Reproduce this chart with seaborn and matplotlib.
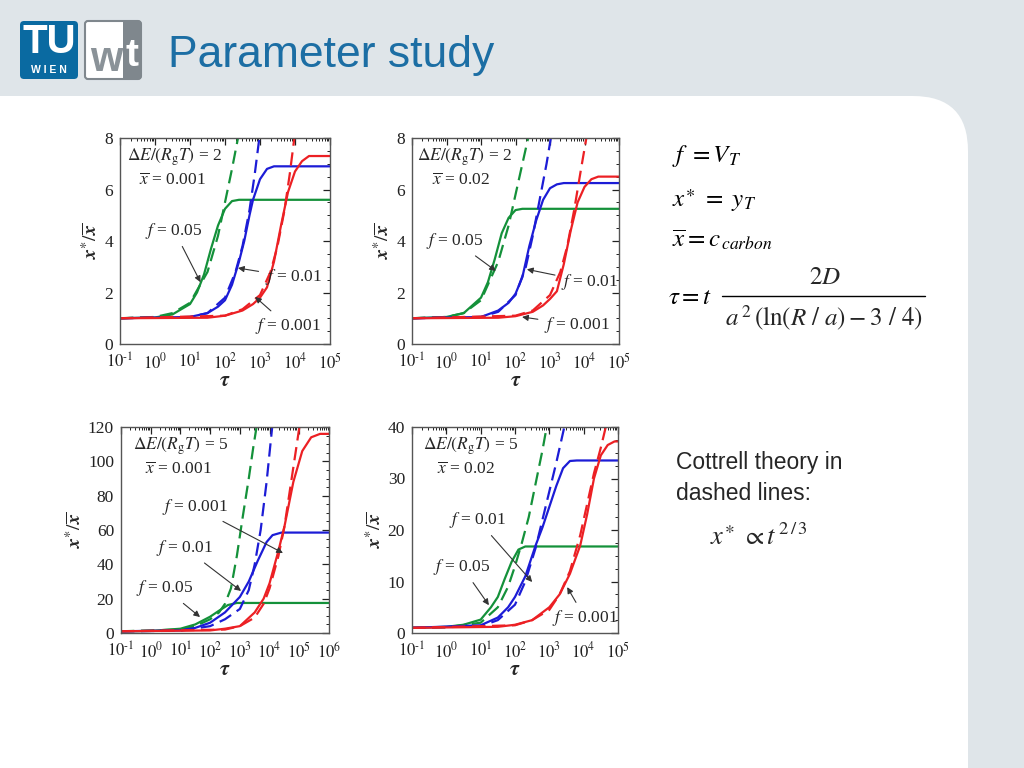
import math
import pandas as pd
import seaborn as sns
import matplotlib.pyplot as plt
import matplotlib.ticker as tkr
from matplotlib.patches import FancyBboxPatch, Rectangle
from matplotlib.lines import Line2D
from matplotlib.transforms import IdentityTransform

# curves: (log10 tau, x*/xbar)
# panel a: dE/(RgT)=2, xbar=0.001
a_green = [(-1, 1.0), (0, 1.03), (0.5, 1.15), (1.0, 1.55), (1.2, 2.0), (1.4, 2.7), (1.6, 3.7),
           (1.8, 4.6), (2.0, 5.25), (2.2, 5.55), (2.4, 5.6), (5, 5.6)]
a_green_c = [(-1, 1.0), (0, 1.05), (0.5, 1.2), (1, 1.6), (1.5, 2.8), (1.8, 4.2), (2.0, 5.5),
             (2.2, 6.8), (2.4, 8.2)]
a_blue = [(-1, 1.0), (1, 1.05), (1.5, 1.2), (1.8, 1.45), (2.0, 1.7), (2.2, 2.3), (2.4, 3.2),
          (2.55, 4.0), (2.7, 5.0), (2.8, 5.6), (3.0, 6.4), (3.2, 6.8), (3.4, 6.9), (5, 6.9)]
a_blue_c = [(-1, 1.0), (1, 1.05), (1.5, 1.2), (2.0, 1.8), (2.3, 2.8), (2.5, 3.8), (2.7, 5.2),
            (2.85, 6.6), (3.0, 8.2)]
a_red = [(-1, 1.0), (1.5, 1.02), (2.0, 1.1), (2.5, 1.3), (2.8, 1.55), (3.0, 1.8), (3.2, 2.2),
         (3.4, 3.2), (3.6, 4.6), (3.8, 5.9), (4.0, 6.7), (4.2, 7.1), (4.4, 7.3), (5, 7.3)]
a_red_c = [(-1, 1.0), (2, 1.1), (2.5, 1.35), (3.0, 1.9), (3.3, 2.8), (3.5, 3.8), (3.7, 5.2),
           (3.85, 6.6), (4.0, 8.2)]

# panel b: dE/(RgT)=2, xbar=0.02
b_green = [(-1, 1.0), (0, 1.05), (0.5, 1.2), (1.0, 1.8), (1.2, 2.4), (1.4, 3.3), (1.6, 4.3),
           (1.8, 4.9), (2.0, 5.2), (2.2, 5.25), (5, 5.25)]
b_green_c = [(-1, 1.0), (0, 1.05), (0.5, 1.2), (1, 1.7), (1.5, 3.2), (1.8, 4.6), (2.0, 5.8),
             (2.2, 7.0), (2.4, 8.2)]
b_blue = [(-1, 1.0), (1.0, 1.05), (1.5, 1.3), (1.8, 1.6), (2.0, 1.95), (2.2, 2.6), (2.4, 3.8),
          (2.6, 4.8), (2.8, 5.6), (3.0, 6.05), (3.2, 6.2), (3.4, 6.25), (5, 6.25)]
b_blue_c = [(-1, 1.0), (1, 1.05), (1.5, 1.25), (2, 1.9), (2.3, 3.0), (2.5, 4.2), (2.7, 5.6),
            (2.9, 7.0), (3.05, 8.2)]
b_red = [(-1, 1.0), (1.5, 1.02), (2.0, 1.08), (2.5, 1.25), (2.8, 1.5), (3.0, 1.75), (3.2, 2.05),
         (3.4, 3.1), (3.6, 4.4), (3.8, 5.5), (4.0, 6.1), (4.2, 6.4), (4.4, 6.5), (5, 6.5)]
b_red_c = [(-1, 1.0), (2, 1.1), (2.5, 1.3), (3, 1.9), (3.3, 2.8), (3.5, 3.8), (3.7, 5.2),
           (3.9, 6.8), (4.08, 8.2)]

# panel c: dE/(RgT)=5, xbar=0.001
c_green = [(-1, 1.0), (0, 1.2), (1, 2.5), (1.5, 5), (2.0, 9.5), (2.3, 13), (2.6, 16.3),
           (2.9, 17.5), (6, 17.5)]
c_green_c = [(-1, 1.0), (1, 2), (1.5, 4), (2.0, 8), (2.3, 12), (2.5, 17), (2.7, 26), (2.9, 45),
             (3.1, 68), (3.3, 90), (3.45, 108), (3.58, 122)]
c_blue = [(-1, 1.0), (1, 1.5), (1.5, 3), (2, 6), (2.5, 12), (3.0, 21), (3.3, 30), (3.6, 42),
          (3.9, 53), (4.1, 57), (4.4, 58.5), (6, 58.5)]
c_blue_c = [(-1, 1.0), (1, 1.3), (2, 4), (2.5, 8), (3.0, 14), (3.3, 25), (3.5, 40), (3.7, 60),
            (3.9, 88), (4.1, 122)]
c_red = [(-1, 1.0), (2, 1.5), (2.5, 2.5), (3.0, 4), (3.5, 12), (3.8, 20), (4.0, 29), (4.3, 48),
         (4.5, 62), (4.8, 88), (5.1, 106), (5.4, 114), (5.7, 116), (6, 116)]
c_red_c = [(-1, 1.0), (2.5, 2), (3, 4), (3.5, 9), (3.8, 17), (4.0, 26), (4.3, 45), (4.5, 62),
           (4.7, 85), (4.9, 108), (5.02, 122)]

# panel d: dE/(RgT)=5, xbar=0.02
d_green = [(-1, 1.0), (0, 1.2), (0.5, 1.6), (1.0, 2.6), (1.3, 5), (1.5, 7), (1.7, 10.5),
           (1.9, 13.8), (2.1, 16.2), (2.3, 16.8), (5, 16.8)]
d_green_c = [(-1, 1.0), (0, 1.1), (1, 2), (1.5, 5), (1.8, 9), (2.0, 13), (2.2, 17.5),
             (2.4, 22.5), (2.6, 29), (2.8, 35.5), (2.95, 41)]
d_blue = [(-1, 1.0), (1, 1.5), (1.5, 3), (1.8, 5), (2.0, 7), (2.3, 11), (2.6, 17), (2.8, 20.5),
          (3.0, 24.5), (3.2, 28.5), (3.4, 32), (3.6, 33.4), (3.8, 33.5), (5, 33.5)]
d_blue_c = [(-1, 1.0), (1, 1.3), (1.5, 2.5), (2, 5.5), (2.3, 10), (2.6, 16.5), (2.8, 22),
            (3.0, 27.5), (3.2, 33), (3.47, 41)]
d_red = [(-1, 1.0), (1.5, 1.2), (2, 1.6), (2.5, 2.5), (3.0, 5), (3.3, 7.5), (3.6, 11.5),
         (3.9, 17), (4.1, 23), (4.3, 30), (4.5, 34.5), (4.7, 36.5), (4.9, 37.2), (5, 37.2)]
d_red_c = [(-1, 1.0), (2, 1.5), (2.5, 2.5), (3, 4.5), (3.3, 7.5), (3.6, 12), (3.9, 19),
           (4.1, 25), (4.3, 31), (4.5, 36), (4.68, 41)]

f_values = ['0.05', '0.01', '0.001']
palette = {'0.05': '#14913a', '0.01': '#1c1cd6', '0.001': '#ec2024'}

panels = [
    dict(curves=[a_green, a_green_c, a_blue, a_blue_c, a_red, a_red_c], pos=[120, 344, 210, 206],
         xmax=5, ymax=8, ystep=2, de='2', xbar='0.001', hdr=[(-0.8, 7.25), (-0.45, 6.35)],
         labels=[('0.05', (0.55, 4.4), (1.3, 2.4)), ('0.01', (3.95, 2.6), (2.37, 2.95)),
                 ('0.001', (3.8, 0.7), (2.86, 1.83))]),
    dict(curves=[b_green, b_green_c, b_blue, b_blue_c, b_red, b_red_c], pos=[412, 344, 207, 206],
         xmax=5, ymax=8, ystep=2, de='2', xbar='0.02', hdr=[(-0.86, 7.25), (-0.42, 6.35)],
         labels=[('0.05', (0.25, 4.0), (1.43, 2.84)), ('0.01', (4.15, 2.4), (2.33, 2.9)),
                 ('0.001', (3.78, 0.74), (2.19, 1.05))]),
    dict(curves=[c_green, c_green_c, c_blue, c_blue_c, c_red, c_red_c], pos=[121, 633, 208, 206],
         xmax=6, ymax=120, ystep=20, de='5', xbar='0.001', hdr=[(-0.6, 109), (-0.2, 95)],
         labels=[('0.001', (1.5, 73.5), (4.45, 46.6)), ('0.01', (1.15, 49.5), (3.04, 24.5)),
                 ('0.05', (0.48, 26), (1.66, 9.3))]),
    dict(curves=[d_green, d_green_c, d_blue, d_blue_c, d_red, d_red_c], pos=[412, 633, 206, 206],
         xmax=5, ymax=40, ystep=10, de='5', xbar='0.02', hdr=[(-0.68, 36.3), (-0.27, 31.7)],
         labels=[('0.01', (0.92, 21.9), (2.5, 9.9)), ('0.05', (0.46, 12.8), (1.24, 5.4)),
                 ('0.001', (4.04, 2.9), (3.52, 8.9))]),
]

W, H = 1024, 768
sns.set_style('white')
plt.rcParams['font.family'] = ['Liberation Serif', 'DejaVu Serif']
plt.rcParams['mathtext.fontset'] = 'stix'

fig = plt.figure(figsize=(W / 100, H / 100), dpi=100, facecolor='#dfe5e9')


def fx(x):
    return x / W


def fy(y):
    return 1 - y / H


# white content area with rounded top-right corner
fig.patches.append(FancyBboxPatch((-200, -200), 968 + 200, H - 96 + 200,
                                  boxstyle='round,pad=0,rounding_size=55', transform=IdentityTransform(),
                                  facecolor='white', edgecolor='none', zorder=-5))

# logos + title
fig.patches.append(FancyBboxPatch((20, H - 79), 58, 58, boxstyle='round,pad=0,rounding_size=4',
                                  transform=IdentityTransform(), facecolor='#0a6aa1', edgecolor='none'))
fig.text(fx(49), fy(42), 'TU', color='white', fontsize=29, fontweight='bold', family='Liberation Sans',
         ha='center', va='center')
fig.text(fx(49), fy(70), 'W I E N', color='white', fontsize=7.5, fontweight='bold', family='Liberation Sans',
         ha='center', va='center')
fig.patches.append(FancyBboxPatch((85, H - 79), 56, 58, boxstyle='round,pad=0,rounding_size=3',
                                  transform=IdentityTransform(), facecolor='white', edgecolor='#7f878d', lw=1.5))
fig.patches.append(Rectangle((123, H - 79), 18, 58, transform=IdentityTransform(),
                             facecolor='#7f878d', edgecolor='none'))
fig.text(fx(106), fy(60), 'w', color='#8a9298', fontsize=30, fontweight='bold', family='Liberation Sans',
         ha='center', va='center')
fig.text(fx(132), fy(56), 't', color='white', fontsize=28, fontweight='bold', family='Liberation Sans',
         ha='center', va='center')
fig.text(fx(168), fy(67), 'Parameter study', color='#1c6ea4', fontsize=32, family='Liberation Sans',
         ha='left', va='baseline')


def make_frame(curves):
    rows = []
    for f, pts in zip(f_values, [curves[0:2], curves[2:4], curves[4:6]]):
        for kind, series in zip(['sim', 'cottrell'], pts):
            for lt, y in series:
                rows.append((f, kind, 10.0 ** lt, y))
    return pd.DataFrame(rows, columns=['f', 'kind', 'tau', 'y'])


def sci(v, pos):
    return r'$10^{\text{%d}}$' % round(math.log10(v))


for p in panels:
    l, b, w, h = p['pos']
    ax = fig.add_axes([fx(l), fy(b), fx(w), h / H])
    ax.patch.set_alpha(0)
    df = make_frame(p['curves'])
    sns.lineplot(data=df, x='tau', y='y', hue='f', style='kind', palette=palette,
                 hue_order=f_values, style_order=['sim', 'cottrell'],
                 dashes={'sim': '', 'cottrell': (6, 3)}, estimator=None, sort=False,
                 legend=False, lw=1.6, ax=ax)
    ax.set_xscale('log')
    ax.set_xlim(0.1, 10 ** p['xmax'])
    ax.set_ylim(0, p['ymax'])
    ax.xaxis.set_major_locator(tkr.LogLocator(base=10, numticks=12))
    ax.xaxis.set_minor_locator(tkr.LogLocator(base=10, subs=range(2, 10), numticks=12))
    ax.xaxis.set_major_formatter(tkr.FuncFormatter(sci))
    ax.xaxis.set_minor_formatter(tkr.NullFormatter())
    ax.yaxis.set_major_locator(tkr.MultipleLocator(p['ystep']))
    ax.yaxis.set_minor_locator(tkr.AutoMinorLocator(4))
    ax.tick_params(which='both', direction='in', top=True, right=True, colors='#222222',
                   labelsize=12.5)
    ax.tick_params(axis='x', pad=6, labelsize=12)
    ax.tick_params(axis='y', pad=5)
    ax.tick_params(which='major', length=5, width=0.9)
    ax.tick_params(which='minor', length=2.5, width=0.7)
    for s in ax.spines.values():
        s.set_color('#555555')
        s.set_linewidth(1.0)
    ax.set_xlabel(r'$\mathbfit{\tau}$', fontsize=15, labelpad=0)
    ax.set_ylabel(r'$\mathbfit{x}^{\ast}/\overline{\mathbfit{x}}$', fontsize=14, labelpad=2)

    (hx1, hy1), (hx2, hy2) = p['hdr']
    ax.text(10 ** hx1, hy1, r'$\Delta E/(R_{\mathrm{g}}T)$ = ' + p['de'], fontsize=12.5, va='center')
    ax.text(10 ** hx2, hy2, r'$\overline{x}$ = ' + p['xbar'], fontsize=12.5, va='center')
    for f, (tx, ty), (ax_, ay) in p['labels']:
        ax.annotate(r'$f$ = ' + f, xy=(10 ** ax_, ay), xytext=(10 ** tx, ty), fontsize=12.5,
                    ha='center', va='center',
                    arrowprops=dict(arrowstyle='-|>', color='#333333', lw=0.8, mutation_scale=9,
                                    shrinkA=2, shrinkB=0))

# notation on the right
eq = dict(fontsize=18, va='center', ha='left', color='black')
fig.text(fx(672), fy(156), r'$f\ = V_T$', **eq)
fig.text(fx(672), fy(201), r'$x^{\ast}\ = \ y_T$', **eq)
fig.text(fx(672), fy(240), r'$\overline{x} = c_{\,carbon}$', **eq)
fig.text(fx(668), fy(298), r'$\tau = t$', **eq)
fig.text(fx(825), fy(278), r'$2D$', fontsize=18, va='center', ha='center')
fig.add_artist(Line2D([fx(722), fx(925)], [fy(296), fy(296)], color='black', lw=1.0))
fig.text(fx(824), fy(318), r'$a^{\,2}\,(\mathrm{ln}(R\ /\ a) - 3\ /\ 4)$', fontsize=18, va='center',
         ha='center')

fig.text(fx(676), fy(463), 'Cottrell theory in', fontsize=16.5, family='Liberation Sans', va='center')
fig.text(fx(676), fy(493), 'dashed lines:', fontsize=16.5, family='Liberation Sans', va='center')
fig.text(fx(710), fy(537), r'$x^{\ast}\ \propto t^{\,2\,/\,3}$', fontsize=19, va='center')

plt.savefig('out.png', dpi=100, facecolor=fig.get_facecolor())
